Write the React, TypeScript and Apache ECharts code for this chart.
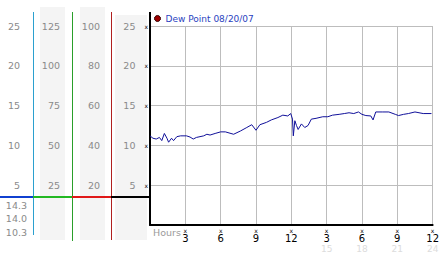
import React, { useEffect, useRef } from 'react';
import * as echarts from 'echarts';

const seriesName = 'Dew Point 08/20/07';

// hour of day (0..24) and dew point readings
const hours = [
  0, 0.25, 0.53, 0.8, 1.0, 1.22, 1.44, 1.58, 1.83, 2.0, 2.28, 2.6, 3.1, 3.4, 3.67, 3.94,
  4.56, 4.83, 5.1, 5.53, 6.0, 6.4, 7.1, 7.67, 8.22, 8.64, 9.0, 9.33, 9.9, 10.3, 10.86,
  11.28, 11.7, 11.95, 12.1, 12.17, 12.3, 12.44, 12.58, 12.86, 13.14, 13.42, 13.7, 14.1,
  14.67, 15.1, 15.5, 16.06, 16.5, 16.9, 17.3, 17.7, 18.0, 18.33, 18.75, 18.94, 19.17,
  19.72, 20.28, 20.83, 21.1, 21.53, 21.94, 22.5, 23.2, 23.9,
];
const dewPoint = [
  11.2, 10.9, 10.8, 11.0, 10.6, 11.5, 10.9, 10.4, 10.9, 10.6, 11.1, 11.2, 11.2, 11.05, 10.8, 11.0,
  11.2, 11.4, 11.3, 11.5, 11.7, 11.7, 11.4, 11.8, 12.25, 12.6, 11.9, 12.6, 12.9, 13.2, 13.5,
  13.8, 13.7, 14.0, 13.3, 11.2, 13.1, 12.5, 12.0, 12.7, 12.25, 12.5, 13.3, 13.4,
  13.6, 13.6, 13.8, 13.9, 14.0, 14.1, 14.0, 14.2, 13.9, 13.75, 13.7, 13.2, 14.2,
  14.2, 14.2, 13.9, 13.75, 13.9, 14.0, 14.2, 14.0, 14.0,
];

// summary values under the scale columns (max, current, min)
const statLabels = ['14.3', '14.0', '10.3'];
const axisLabelTitle = 'Hours';

// secondary scale columns: multiplier and tick step
const colScales = [1, 5, 4];
const colSteps = [5, 25, 20];

const FONT = 'DejaVu Sans';

export default function App() {
  const ref = useRef<HTMLDivElement>(null);
  useEffect(() => {
    const chart = echarts.init(ref.current!, null, { renderer: 'svg' });
    const yMax = 25;
    const colOffsets = [130, 90, 50];
    const extraY = colScales.map((s, i) => ({
      type: 'value',
      position: 'left',
      min: 0,
      max: yMax * s,
      interval: colSteps[i],
      offset: colOffsets[i],
      axisLine: { show: false },
      axisTick: { show: false },
      splitLine: { show: false },
      axisLabel: {
        margin: 0,
        color: '#8a8a8a',
        fontSize: 9.5,
        fontFamily: FONT,
        formatter: (v: number) => (v === 0 ? '' : String(v)),
      },
    }));

    const hLine = (x1: number, x2: number, y: number, color: string, w: number) => ({
      type: 'line',
      shape: { x1, y1: y, x2, y2: y },
      style: { stroke: color, lineWidth: w },
      z: 5,
    });
    const vLine = (x: number, y1: number, y2: number, color: string, w: number) => ({
      type: 'line',
      shape: { x1: x, y1, x2: x, y2 },
      style: { stroke: color, lineWidth: w },
      z: 5,
    });

    chart.setOption({
      animation: false,
      textStyle: { fontFamily: FONT },
      grid: { left: 150, right: 4, top: 26, bottom: 27, containLabel: false },
      legend: {
        left: 154,
        top: 14,
        padding: 0,
        itemWidth: 6,
        itemHeight: 6,
        icon: 'circle',
        data: [
          {
            name: seriesName,
            itemStyle: { color: '#a00000', borderColor: '#3a0000', borderWidth: 1 },
          },
        ],
        textStyle: { color: '#2a3fc0', fontSize: 9, fontFamily: FONT },
      },
      xAxis: {
        type: 'value',
        min: 0,
        max: 24,
        interval: 3,
        axisLine: { show: true, lineStyle: { color: '#000', width: 2 } },
        axisTick: { show: false },
        splitLine: { show: true, lineStyle: { color: '#bdbdbd', width: 1 } },
        axisLabel: {
          margin: 3,
          fontFamily: FONT,
          formatter: (v: number) => {
            if (v === 0) return '';
            const h12 = v > 12 ? v - 12 : v;
            let s = `{m|x}\n{n|${h12}}`;
            if (v > 12) s += `\n{f|${v}}`;
            return s;
          },
          rich: {
            m: { fontSize: 6, lineHeight: 5, color: '#000', fontFamily: FONT },
            n: { fontSize: 10, lineHeight: 10, color: '#000', fontFamily: FONT },
            f: { fontSize: 9, lineHeight: 11, color: '#dcdcdc', fontFamily: FONT },
          },
        },
      },
      yAxis: [
        {
          type: 'value',
          position: 'left',
          min: 0,
          max: yMax,
          interval: 5,
          axisLine: { show: true, lineStyle: { color: '#000', width: 2 } },
          axisTick: { show: false },
          splitLine: { show: true, lineStyle: { color: '#bdbdbd', width: 1 } },
          axisLabel: {
            margin: 2,
            fontFamily: FONT,
            formatter: (v: number) => (v === 0 ? '' : `{n|${v}}{m|x}`),
            rich: {
              n: { fontSize: 9.5, color: '#8a8a8a', fontFamily: FONT },
              m: { fontSize: 6, color: '#000', padding: [0, 0, 0, 9], fontFamily: FONT },
            },
          },
        },
        ...extraY,
      ],
      graphic: [
        { type: 'rect', shape: { x: 40, y: 7, width: 25, height: 233 }, style: { fill: '#f4f4f4' }, z: -10 },
        { type: 'rect', shape: { x: 80, y: 7, width: 25, height: 233 }, style: { fill: '#f4f4f4' }, z: -10 },
        { type: 'rect', shape: { x: 115, y: 15, width: 32, height: 225 }, style: { fill: '#f4f4f4' }, z: -10 },
        vLine(33.5, 12, 235, '#2ba0cf', 1),
        vLine(72.5, 12, 241, '#2a9f2a', 1),
        vLine(111.5, 12, 240, '#b02020', 1),
        hLine(0, 33, 197, '#1040d0', 2),
        hLine(33, 72, 197, '#22b822', 2),
        hLine(72, 111, 197, '#e01818', 2),
        hLine(111, 150, 197, '#000', 2),
        vLine(150, 12, 27, '#000', 2),
        ...statLabels.map((t, i) => ({
          type: 'text',
          x: 27,
          y: 205 + i * 13.5,
          style: {
            text: t,
            fill: '#8a8a8a',
            fontSize: 9.5,
            fontFamily: FONT,
            textAlign: 'right',
            textVerticalAlign: 'middle',
          },
          z: 5,
        })),
        {
          type: 'text',
          x: 153,
          y: 232,
          style: {
            text: axisLabelTitle,
            fill: '#9a9a9a',
            fontSize: 9.5,
            fontFamily: FONT,
            textAlign: 'left',
            textVerticalAlign: 'middle',
          },
          z: 5,
        },
      ],
      series: [
        {
          name: seriesName,
          type: 'line',
          xAxisIndex: 0,
          yAxisIndex: 0,
          data: hours.map((h, i) => [h, dewPoint[i]]),
          showSymbol: false,
          symbol: 'none',
          lineStyle: { color: '#10109a', width: 1 },
          itemStyle: { color: '#a00000' },
        },
      ],
    });
    return () => chart.dispose();
  }, []);
  return (
    <div
      ref={ref}
      style={{ position: 'fixed', left: 0, top: 0, width: 442, height: 253, background: '#fff' }}
    />
  );
}
